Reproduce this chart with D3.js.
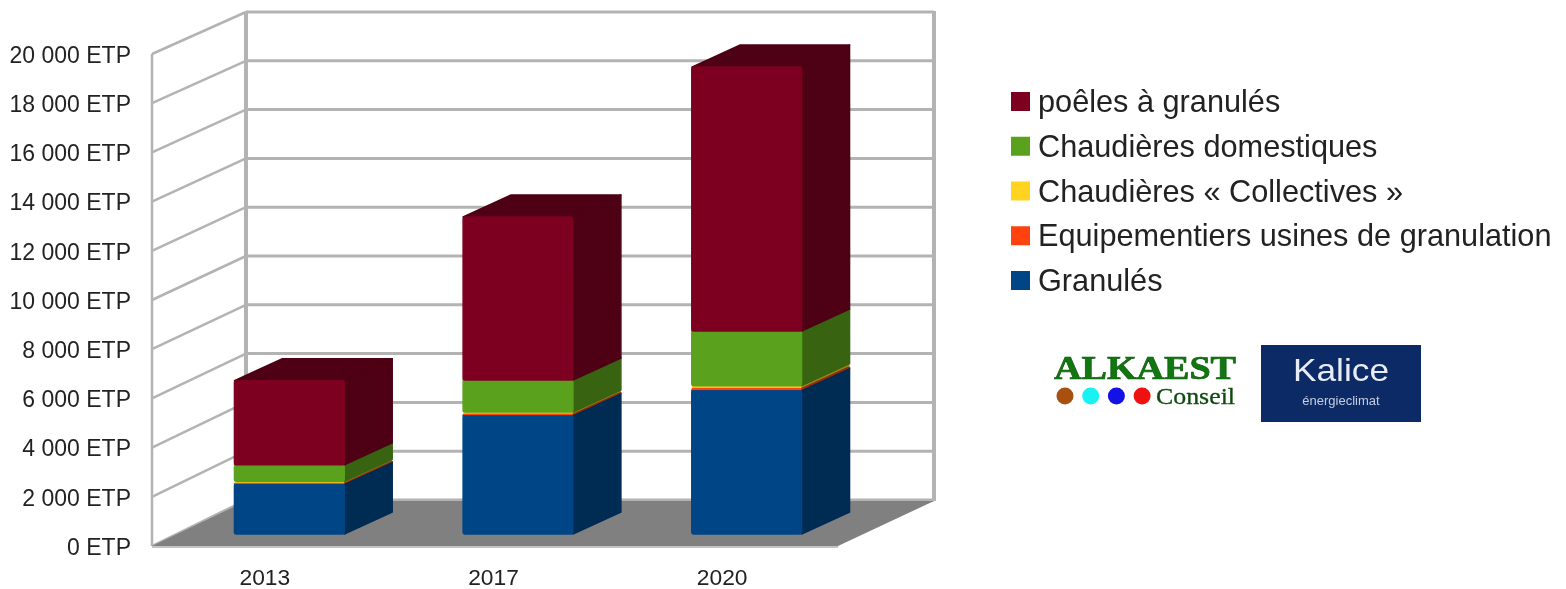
<!DOCTYPE html>
<html>
<head>
<meta charset="utf-8">
<script src="https://cdn.jsdelivr.net/npm/d3@7"></script>
<style>
html,body{margin:0;padding:0;background:#fff;}
svg{display:block;filter:blur(.55px);}
text{font-family:"Liberation Sans",sans-serif;}
</style>
</head>
<body>
<div id="chart"></div>
<script>
const years = ["2013","2017","2020"];
const granules = [2030,4830,5850];
const equipementiers = [50,60,90];
const collectives = [60,70,90];
const domestiques = [670,1300,2220];
const poeles = [3420,6625,10730];
const seriesNames = ["Granulés","Equipementiers usines de granulation","Chaudières « Collectives »","Chaudières domestiques","poêles à granulés"];
const seriesValues = [granules,equipementiers,collectives,domestiques,poeles];
const tickValues = d3.range(0,20001,2000);

const colors = ["#004586","#ff420e","#ffd320","#5aa21d","#7e0021"];
const W=1566,H=589;
const svg=d3.select("#chart").append("svg").attr("width",W).attr("height",H);

const x=d3.scaleBand().domain(years).range([152,838]);
const yFront=d3.scaleLinear().domain([0,20000]).range([546,54]);
const yBack=d3.scaleLinear().domain([0,20000]).range([500,12]);
const yBar=d3.scaleLinear().domain([0,20000]).range([534,42]);
const barW=x.bandwidth()*0.48;
const barDx=23, barDepthX=48, barDepthY=22;
const frontLeft=x.range()[0], frontRight=x.range()[1];
const backX=246, backRight=934;

// walls
const grid="#b3b3b3";
const walls=svg.append("g").attr("stroke",grid).attr("fill","none");
tickValues.forEach(t=>{
  walls.append("line").attr("stroke-width",2.5).attr("x1",frontLeft).attr("y1",yFront(t)).attr("x2",backX).attr("y2",yBack(t));
  walls.append("line").attr("stroke-width",3).attr("x1",backX).attr("y1",yBack(t)).attr("x2",backRight).attr("y2",yBack(t));
});
walls.append("line").attr("stroke-width",2.5).attr("x1",frontLeft).attr("x2",frontLeft).attr("y1",yFront(20000)).attr("y2",yFront(0));
walls.append("line").attr("stroke-width",4).attr("x1",backX).attr("x2",backX).attr("y1",yBack(20000)).attr("y2",yBack(0));
walls.append("line").attr("stroke-width",4).attr("x1",backRight).attr("x2",backRight).attr("y1",yBack(20000)-1).attr("y2",yBack(0)+1);
walls.append("path").attr("fill","#808080").attr("stroke","none")
  .attr("d",`M${frontLeft},${yFront(0)}L${frontRight},${yFront(0)}L${backRight},${yBack(0)+1}L${backX},${yBack(0)+1}Z`);
walls.append("line").attr("stroke-width",2).attr("stroke","#c4c4c4").attr("x1",frontLeft).attr("x2",frontRight).attr("y1",yFront(0)+1).attr("y2",yFront(0)+1);

// axes
const axisY=svg.append("g").attr("transform","translate(131,1)")
  .call(d3.axisLeft(yFront).tickValues(tickValues).tickSize(0).tickPadding(0)
    .tickFormat(d=>d3.format(",")(d).replace(","," ")+" ETP"));
axisY.select(".domain").remove();
axisY.selectAll("text").attr("font-size",23).attr("fill","#222").attr("font-family","Liberation Sans");

const axisX=svg.append("g").attr("transform","translate(-1.5,569)")
  .call(d3.axisBottom(x).tickSize(0).tickPadding(0));
axisX.select(".domain").remove();
axisX.selectAll("text").attr("font-size",22.8).attr("fill","#222").attr("font-family","Liberation Sans");

// bars
years.forEach((year,i)=>{
  const left=x(year)+(x.bandwidth()-barW)/2+barDx;
  const right=left+barW;
  let acc=0;
  seriesValues.forEach((vals,s)=>{
    const v0=acc, v1=acc+vals[i]; acc=v1;
    const y0=yBar(v0), y1=yBar(v1);
    const c=colors[s], dark=d3.color(c).darker(1.35).formatHex();
    const thin=vals[i]<100;
    const g=svg.append("g").attr("stroke-linejoin","round").attr("stroke-width",thin?0:1.5);
    g.append("path").attr("fill",dark).attr("stroke",dark)
      .attr("d",`M${right},${y0}L${right+barDepthX},${y0-barDepthY}L${right+barDepthX},${y1-barDepthY}L${right},${y1}Z`);
    g.append("path").attr("fill",dark).attr("stroke",dark)
      .attr("d",`M${left},${y1}L${left+barDepthX},${y1-barDepthY}L${right+barDepthX},${y1-barDepthY}L${right},${y1}Z`);
    g.append("rect").attr("x",left).attr("y",y1).attr("width",barW).attr("height",y0-y1)
      .attr("fill",c).attr("stroke",c).attr("rx",thin?0:2);
  });
});

// legend
const legendNames=seriesNames.slice().reverse();
const legendColors=colors.slice().reverse();
const legendY=d3.scalePoint().domain(legendNames).range([101,280]);
const legend=svg.append("g").selectAll("g").data(legendNames).join("g")
  .attr("transform",d=>`translate(1011,${legendY(d)})`);
legend.append("rect").attr("y",-9).attr("width",19).attr("height",19)
  .attr("fill",(d,i)=>legendColors[i]);
legend.append("text").attr("x",27).attr("y",11).attr("font-size",30.7).attr("fill","#222").text(d=>d);

// logos
const logo=svg.append("g");
logo.append("text").attr("x",1054).attr("y",379).attr("font-size",33).attr("font-weight","bold")
  .attr("textLength",182).attr("lengthAdjust","spacingAndGlyphs")
  .attr("fill","#117711").attr("stroke","#0f5f0f").attr("stroke-width",.7)
  .style("font-family","Liberation Serif").text("ALKAEST");
const dots=["#a8500f","#19f2f2","#1212e6","#f01010"];
logo.selectAll("circle").data(dots).join("circle")
  .attr("cx",(d,i)=>1065+i*25.7).attr("cy",396).attr("r",8.5).attr("fill",d=>d);
logo.append("text").attr("x",1156).attr("y",404).attr("font-size",23)
  .attr("textLength",79).attr("lengthAdjust","spacingAndGlyphs")
  .attr("fill","#0f4a0f").attr("stroke","#0f4a0f").attr("stroke-width",.3)
  .style("font-family","Liberation Serif").text("Conseil");
logo.append("rect").attr("x",1261).attr("y",345).attr("width",160).attr("height",77).attr("fill","#0b2a66");
logo.append("text").attr("x",1341).attr("y",381).attr("text-anchor","middle").attr("font-size",32)
  .attr("textLength",96).attr("lengthAdjust","spacingAndGlyphs")
  .attr("fill","#e8ecf5").text("Kalice");
logo.append("text").attr("x",1341).attr("y",405).attr("text-anchor","middle").attr("font-size",13)
  .attr("fill","#c5cde0").text("énergieclimat");
</script>
</body>
</html>
